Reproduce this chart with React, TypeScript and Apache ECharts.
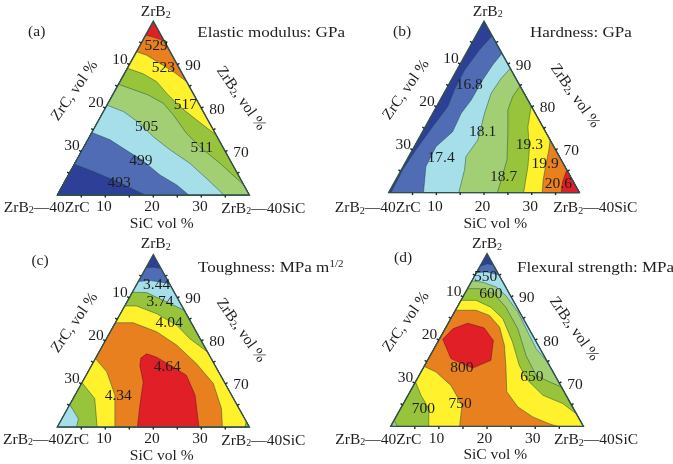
import React, { useEffect, useRef } from "react";
import * as echarts from "echarts";

type P = number[];
const RED = "#E01F26", ORANGE = "#E8801F", YELLOW = "#FFF12B", GREEN = "#97C43B", LGREEN = "#A3CF74", LBLUE = "#A6DFEA", BLUE = "#4F6CB4", NAVY = "#2E3F97";
const L: P = [0, 60], R: P = [40, 60], A: P = [20, 100];

// Panel (a) contour lines, [horizontal position, ZrB2 vol %]
const a1: P[] = [[18.4, 96.8], [20.1, 96.3], [22.25, 95.5]];
const a2: P[] = [[16.5, 93.0], [18.6, 92.2], [21.4, 90.3], [24.2, 88.4], [26.95, 86.1]];
const a3: P[] = [[14.6, 89.2], [17.9, 87.9], [20.7, 86.1], [22.8, 83.4], [25.6, 80.3], [29.0, 77.3], [33.1, 73.8]];
const a4: P[] = [[12.75, 85.5], [15.8, 84.3], [19.0, 83.0], [22.1, 81.1], [24.2, 78.4], [26.9, 74.2], [30.1, 70.7], [33.9, 67.3], [38.85, 62.3]];
const a5: P[] = [[10.35, 80.7], [13.8, 79.2], [17.2, 76.5], [20.0, 73.4], [23.5, 70.4], [27.6, 67.3], [31.1, 63.8], [34.7, 60]];
const a6: P[] = [[7.2, 74.4], [11.0, 72.7], [14.8, 70.0], [17.6, 68.1], [21.4, 64.6], [24.9, 62.3], [27.4, 60]];
const a7: P[] = [[3.55, 67.1], [7.5, 65.4], [12.4, 63.1], [15.5, 61.5], [18.3, 60]];
const aLabels: (string | number)[][] = [["529", 20.6, 94.6], ["523", 22.1, 89.7], ["517", 26.7, 81.0], ["505", 18.6, 76.1], ["511", 30.1, 71.1], ["499", 17.4, 68.1], ["493", 12.9, 63.1]];

// Panel (b)
const b1: P[] = [[21.7, 96.6], [19.0, 93.3], [15.9, 88.6], [13.8, 84.0], [12.4, 80.1], [9.2, 75.4], [5.7, 70.0], [2.9, 65.3], [0.5, 60]];
const b2: P[] = [[23.75, 92.5], [21.8, 89.8], [19.7, 86.3], [17.3, 81.6], [15.2, 78.5], [13.4, 74.2], [9.9, 70.7], [7.8, 66.1], [7.3, 60]];
const b3: P[] = [[25.5, 89.0], [23.6, 86.7], [21.5, 83.2], [20.1, 78.5], [18.7, 72.3], [16.2, 68.4], [15.9, 65.3], [14.7, 60]];
const b4: P[] = [[27.55, 84.9], [26.0, 82.4], [25.0, 79.3], [25.0, 73.9], [24.8, 67.6], [23.6, 63.0], [22.8, 60]];
const b5: P[] = [[29.9, 80.2], [29.2, 75.4], [29.5, 70.0], [29.2, 66.1], [28.3, 60]];
const b6: P[] = [[33.85, 72.3], [33.6, 70.0], [32.9, 66.1], [32.4, 63.0], [32.2, 60]];
const b7: P[] = [[37.35, 65.3], [36.5, 62.6], [36.2, 60]];
const bLabels: (string | number)[][] = [["16.8", 16.9, 85.5], ["18.1", 19.7, 74.4], ["17.4", 11.0, 68.4], ["19.3", 29.5, 71.5], ["19.9", 32.8, 67.0], ["18.7", 24.1, 64.1], ["20.6", 35.6, 62.4]];

// Panel (c)
const c1: P[] = [[18.5, 97.0], [20.0, 97.1], [21.6, 96.8]];
const c2: P[] = [[16.9, 93.8], [19.4, 94.0], [23.35, 93.3]];
const c3: P[] = [[15.65, 91.3], [18.6, 91.2], [22.1, 89.4], [26.45, 87.1]];
const c3Low: P[] = [[4.0, 60], [4.4, 61.9], [2.6, 65.2]];
const c4: P[] = [[14.05, 88.1], [16.5, 88.1], [20.7, 86.3], [24.9, 83.6], [27.6, 80.5], [31.3, 77.4], [39.35, 61.3], [39.1, 60]];
const c4Low: P[] = [[8.3, 60], [7.8, 66.6], [5.15, 70.3]];
const c5: P[] = [[12.1, 84.2], [15.8, 84.2], [20.7, 82.1], [24.9, 79.0], [29.0, 74.7], [32.5, 70.1], [34.2, 64.3], [34.4, 60], [12.0, 60], [12.0, 67.4], [10.3, 72.8], [7.95, 75.9]];
const c6: P[] = [[17.4, 76.0], [18.6, 77.0], [20.7, 76.2], [24.2, 73.9], [26.9, 72.0], [28.7, 67.4], [29.5, 60], [16.7, 60], [17.2, 65.0], [17.9, 70.4], [17.2, 74.3]];
const cLabels: (string | number)[][] = [["3.44", 20.7, 93.3], ["3.74", 21.4, 89.4], ["4.04", 23.3, 84.5], ["4.64", 22.9, 74.3], ["4.34", 12.7, 67.6]];

// Panel (d)
const d1: P[] = [[18.55, 97.1], [20.1, 97.7], [21.35, 97.3]];
const d2: P[] = [[17.8, 95.6], [19.8, 95.8], [22.45, 95.1]];
const d3: P[] = [[16.85, 93.7], [19.1, 93.4], [21.9, 92.3], [23.9, 90.3], [26.4, 86.5], [28.8, 81.1], [30.2, 78.0], [32.65, 74.7]];
const d4: P[] = [[15.95, 91.9], [18.4, 91.9], [21.5, 90.7], [23.9, 87.6], [26.4, 82.6], [28.1, 76.4], [30.2, 71.8], [32.2, 70.7], [35.45, 69.1]];
const d4Low: P[] = [[1.45, 60], [0.7, 61.4]];
const d5: P[] = [[14.6, 89.2], [17.7, 89.2], [20.8, 87.6], [23.3, 84.9], [25.3, 79.5], [26.7, 74.1], [28.4, 70.7], [31.6, 67.2], [35.7, 65.3], [38.55, 62.9]];
const d5Low: P[] = [[7.9, 60], [7.9, 64.1], [6.3, 67.2], [5.15, 70.3]];
const d6: P[] = [[13.45, 86.9], [17.7, 86.9], [20.5, 85.7], [22.6, 83.0], [23.6, 78.8], [23.9, 74.1], [24.1, 68.0], [26.4, 64.5], [29.5, 62.2], [32.9, 60.6], [34.7, 60], [14.3, 60], [14.8, 64.9], [12.5, 69.5], [9.4, 72.6], [6.95, 73.9]];
const d7: P[] = [[10.8, 80.2], [12.9, 82.6], [16.0, 83.9], [19.4, 82.8], [21.3, 79.9], [20.8, 75.3], [17.0, 73.5], [12.5, 75.7]];
const dLabels: (string | number)[][] = [["550", 19.7, 95.0], ["600", 20.8, 91.1], ["800", 14.8, 73.9], ["650", 29.3, 71.8], ["750", 14.4, 65.6], ["700", 6.8, 64.3]];

const minorTicks = [5, 10, 15, 20, 25, 30, 35];
const sicTickLabels = [10, 20, 30];
const zrcTickLabels = [10, 20, 30];
const zrb2TickLabels = [90, 80, 70];
const titles = ["{n|Elastic modulus: GPa}", "{n|Hardness: GPa}", "{n|Toughness: MPa m}{sup|1/2}", "{n|Flexural strength: MPa}"];
const letters = ["(a)", "(b)", "(c)", "(d)"];
const ZRB2 = "{n|ZrB}{s|2}";
const CORNER_L = "{n|ZrB}{s|2}{n|—40ZrC}";
const CORNER_R = "{n|ZrB}{s|2}{n|—40SiC}";

const regionsA = [
  { fill: RED, pts: [L, R, A] },
  { fill: ORANGE, pts: [...a1, R, L] },
  { fill: YELLOW, pts: [...a2, R, L] },
  { fill: GREEN, pts: [...a3, R, L] },
  { fill: LGREEN, pts: [...a4, R, L] },
  { fill: LBLUE, pts: [...a5, L] },
  { fill: BLUE, pts: [...a6, L] },
  { fill: NAVY, pts: [...a7, L] },
];
const regionsB = [
  { fill: NAVY, pts: [L, R, A] },
  { fill: BLUE, pts: [...b1, R] },
  { fill: LBLUE, pts: [...b2, R] },
  { fill: LGREEN, pts: [...b3, R] },
  { fill: GREEN, pts: [...b4, R] },
  { fill: YELLOW, pts: [...b5, R] },
  { fill: ORANGE, pts: [...b6, R] },
  { fill: RED, pts: [...b7, R] },
];
const regionsC = [
  { fill: NAVY, pts: [L, R, A] },
  { fill: BLUE, pts: [...c1, R, L] },
  { fill: LBLUE, pts: [...c2, R, L] },
  { fill: GREEN, pts: [...c3, R, ...c3Low] },
  { fill: YELLOW, pts: [...c4, ...c4Low] },
  { fill: ORANGE, pts: c5 },
  { fill: RED, pts: c6 },
];
const regionsD = [
  { fill: NAVY, pts: [L, R, A] },
  { fill: BLUE, pts: [...d1, R, L] },
  { fill: LBLUE, pts: [...d2, R, L] },
  { fill: LGREEN, pts: [...d3, R, L] },
  { fill: GREEN, pts: [...d4, R, ...d4Low] },
  { fill: YELLOW, pts: [...d5, R, ...d5Low] },
  { fill: ORANGE, pts: d6 },
  { fill: RED, pts: d7 },
];

const FONT = "Liberation Serif";
const TXT = "#1e1e1e";
const FS = 15.5;
const RICH = {
  n: { fontFamily: FONT, fontSize: FS, fill: TXT, color: TXT, lineHeight: 17 },
  s: { fontFamily: FONT, fontSize: 10, fill: TXT, color: TXT, lineHeight: 17, verticalAlign: "bottom" },
  sup: { fontFamily: FONT, fontSize: 10, fill: TXT, color: TXT, lineHeight: 17, verticalAlign: "top" },
};

const panels = [
  { regions: regionsA, labels: aLabels, grid: { left: 57.3, top: 21.3, width: 192, height: 173.7 }, baseDx: -1.3, baseDy: 10.8,
    top: [155.7, 10.7], letter: [36.7, 30], title: [197.3, 32], cl: [46.7, 206], cr: [263.3, 207], sic: [161.7, 222], zrc: [73.5, 90], zrb: [242, 97.5] },
  { regions: regionsB, labels: bLabels, grid: { left: 388.7, top: 21.3, width: 190.7, height: 171.3 }, baseDx: -1.5, baseDy: 13,
    top: [487.7, 10], letter: [402, 30], title: [530, 32], cl: [377.7, 206.5], cr: [595.3, 206.5], sic: [495.3, 222], zrc: [405, 89], zrb: [576, 95] },
  { regions: regionsC, labels: cLabels, grid: { left: 57.3, top: 254.7, width: 192, height: 172.3 }, baseDx: -1.3, baseDy: 10.8,
    top: [155.7, 242.7], letter: [40, 259], title: [198, 267], cl: [46, 438], cr: [263.3, 439], sic: [161.7, 454], zrc: [73.5, 322], zrb: [242, 329.5] },
  { regions: regionsD, labels: dLabels, grid: { left: 390.7, top: 253.7, width: 192.7, height: 172.7 }, baseDx: -2.5, baseDy: 11,
    top: [487, 242.7], letter: [403, 256], title: [517, 267], cl: [378.3, 438], cr: [596, 438.7], sic: [495.3, 453.6], zrc: [405, 321], zrb: [575, 328] },
];

function buildSeries(panel: any, idx: number) {
  const items: any[] = [];
  panel.regions.forEach((r: any) => items.push({ kind: "poly", ...r }));
  items.push({ kind: "outline" });
  minorTicks.forEach((t) => {
    items.push({ kind: "tick", at: [t, 60], dir: [0, 1] });
    items.push({ kind: "tick", at: [(40 - t) / 2, 100 - t], dir: [-0.87, -0.5] });
    items.push({ kind: "tick", at: [40 - t / 2, 60 + t], dir: [0.87, -0.5] });
  });
  sicTickLabels.forEach((t) => items.push({ kind: "text", text: String(t), at: [t, 60], off: [panel.baseDx, panel.baseDy] }));
  zrcTickLabels.forEach((t) => items.push({ kind: "text", text: String(t), at: [(40 - t) / 2, 100 - t], off: [-9.3, -6.7] }));
  zrb2TickLabels.forEach((t) => items.push({ kind: "text", text: String(t), at: [40 - (t - 60) / 2, t], off: [15.7, 0] }));
  panel.labels.forEach((l: any) => items.push({ kind: "text", text: l[0], at: [l[1], l[2]], off: [0, 0] }));
  return {
    type: "custom",
    xAxisIndex: idx,
    yAxisIndex: idx,
    coordinateSystem: "cartesian2d",
    clip: false,
    silent: true,
    data: items.map((_, i) => [20, 80, i]),
    encode: { x: 0, y: 1 },
    renderItem: (params: any, api: any) => {
      const it = items[params.dataIndex];
      if (it.kind === "poly") {
        return {
          type: "polygon",
          shape: { points: it.pts.map((p: P) => api.coord(p)) },
          style: { fill: it.fill, stroke: it.fill === RED ? "rgba(110,20,40,0.7)" : "rgba(25,70,65,0.6)", lineWidth: 0.8 },
        };
      }
      if (it.kind === "outline") {
        return {
          type: "polygon",
          shape: { points: [L, R, A].map((p) => api.coord(p)) },
          style: { fill: "none", stroke: "#34504e", lineWidth: 1.4 },
        };
      }
      const c = api.coord(it.at);
      if (it.kind === "tick") {
        return {
          type: "line",
          shape: { x1: c[0], y1: c[1], x2: c[0] + it.dir[0] * 2.5, y2: c[1] + it.dir[1] * 2.5 },
          style: { stroke: "#1c2a2a", lineWidth: 1.4 },
        };
      }
      return {
        type: "text",
        x: c[0] + it.off[0],
        y: c[1] + it.off[1],
        style: { text: it.text, fontFamily: FONT, fontSize: FS, fill: TXT, align: "center", verticalAlign: "middle" },
      };
    },
  };
}

function txt(text: string, pos: number[], align = "center", rotation = 0, scaleX = 1) {
  return {
    type: "text",
    x: pos[0],
    y: pos[1],
    rotation,
    scaleX,
    silent: true,
    style: { text, rich: RICH, fontFamily: FONT, fontSize: FS, fill: TXT, align, verticalAlign: "middle" },
  };
}

export default function App() {
  const ref = useRef<HTMLDivElement>(null);
  useEffect(() => {
    const chart = echarts.init(ref.current!, null, { renderer: "svg" });
    const graphic: any[] = [];
    const tilt = (55 * Math.PI) / 180;
    panels.forEach((p, i) => {
      graphic.push(txt(ZRB2, p.top));
      graphic.push(txt(letters[i], p.letter));
      graphic.push(txt(titles[i], p.title, "left", 0, 1.1));
      graphic.push(txt(CORNER_L, p.cl));
      graphic.push(txt(CORNER_R, p.cr));
      graphic.push(txt("SiC vol %", p.sic));
      graphic.push(txt("ZrC, vol %", p.zrc, "center", tilt));
      graphic.push(txt("{n|ZrB}{s|2}{n|, vol %}", p.zrb, "center", -tilt));
    });
    chart.setOption({
      animation: false,
      backgroundColor: "#ffffff",
      grid: panels.map((p) => ({ ...p.grid, containLabel: false })),
      xAxis: panels.map((_, i) => ({ type: "value", gridIndex: i, min: 0, max: 40, show: false })),
      yAxis: panels.map((_, i) => ({ type: "value", gridIndex: i, min: 60, max: 100, show: false })),
      series: panels.map((p, i) => buildSeries(p, i)),
      graphic,
    });
    return () => chart.dispose();
  }, []);
  return <div ref={ref} style={{ position: "absolute", left: 0, top: 0, width: 673, height: 464, filter: "blur(0.35px)" }} />;
}
